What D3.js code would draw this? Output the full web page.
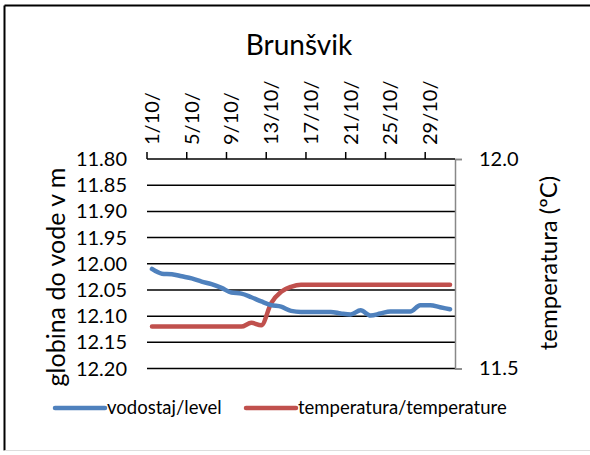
<!DOCTYPE html>
<html>
<head>
<meta charset="utf-8">
<script src="https://cdn.jsdelivr.net/npm/d3@7"></script>
<style>
body { margin: 0; background: #fff; overflow: hidden; }
svg { font-family: Lato, "Open Sans", sans-serif; display: block; }
</style>
</head>
<body>
<script>
// days of October, labels shown every 4th day
var days = d3.range(1, 32);
var tickLabels = ["1/10/", "5/10/", "9/10/", "13/10/", "17/10/", "21/10/", "25/10/", "29/10/"];
var level = [12.010, 12.019, 12.020, 12.024, 12.028, 12.034, 12.039, 12.046, 12.055, 12.057,
             12.064, 12.072, 12.079, 12.082, 12.090, 12.092, 12.092, 12.092, 12.092, 12.095,
             12.097, 12.089, 12.099, 12.095, 12.091, 12.091, 12.091, 12.079, 12.079, 12.083, 12.087];
var temperature = [11.600, 11.600, 11.600, 11.600, 11.600, 11.600, 11.600, 11.600, 11.600, 11.600,
                   11.609, 11.603, 11.656, 11.683, 11.695, 11.700, 11.700, 11.700, 11.700, 11.700,
                   11.700, 11.700, 11.700, 11.700, 11.700, 11.700, 11.700, 11.700, 11.700, 11.700, 11.700];
var leftTicks = [11.80, 11.85, 11.90, 11.95, 12.00, 12.05, 12.10, 12.15, 12.20];
var rightTicks = [11.5, 12.0];

var w = 590, h = 455;
var pLeft = 147, pRight = 455, pTop = 159, pBottom = 368.5;

var svg = d3.select("body").append("svg")
    .attr("width", w)
    .attr("height", h);

// chart border (right edge falls outside the picture)
svg.append("line")
   .attr("x1", 4.5).attr("x2", w).attr("y1", 5.5).attr("y2", 5.5)
   .attr("stroke", "#000").attr("stroke-width", 2);
svg.append("line")
   .attr("x1", 4.5).attr("x2", 4.5).attr("y1", 5.5).attr("y2", 450.5)
   .attr("stroke", "#000").attr("stroke-width", 2);
svg.append("line")
   .attr("x1", 4.5).attr("x2", w).attr("y1", 450.5).attr("y2", 450.5)
   .attr("stroke", "#ddd").attr("stroke-width", 1);

var xScale = d3.scaleBand()
    .domain(days)
    .range([pLeft, pRight]);

var yLeft = d3.scaleLinear()
    .domain([11.80, 12.20])
    .range([pTop, pBottom]);

var yRight = d3.scaleLinear()
    .domain([11.5, 12.0])
    .range([pBottom, pTop]);

// gridlines
svg.selectAll("line.grid")
   .data(leftTicks.slice(1))
   .enter()
   .append("line")
   .attr("class", "grid")
   .attr("x1", pLeft).attr("x2", pRight)
   .attr("y1", function(d) { return yLeft(d); })
   .attr("y2", function(d) { return yLeft(d); })
   .attr("stroke", "#000")
   .attr("stroke-width", 1.5);

// left tick labels
svg.selectAll("text.ly")
   .data(leftTicks)
   .enter()
   .append("text")
   .attr("class", "ly")
   .text(function(d) { return d.toFixed(2); })
   .attr("x", 127)
   .attr("y", function(d) { return yLeft(d); })
   .attr("dy", "0.35em")
   .attr("text-anchor", "end")
   .attr("font-size", "20px")
   .attr("fill", "#000");

// right axis
var rAxis = svg.append("g")
   .attr("transform", "translate(" + pRight + ",0)")
   .call(d3.axisRight(yRight).tickValues(rightTicks).tickSize(7).tickPadding(17)
         .tickFormat(d3.format(".1f")));
rAxis.select(".domain").attr("stroke", "#888").attr("stroke-width", 1.5);
rAxis.selectAll(".tick line").attr("stroke", "#888").attr("stroke-width", 1.5);
rAxis.selectAll(".tick text").attr("font-size", "20px").attr("fill", "#000")
   .attr("font-family", "Lato, sans-serif");

// top category axis
var tickDays = days.filter(function(d) { return (d - 1) % 4 === 0; });
var xAxisG = svg.append("g");
xAxisG.append("line")
   .attr("x1", pLeft).attr("x2", pRight)
   .attr("y1", pTop).attr("y2", pTop)
   .attr("stroke", "#000").attr("stroke-width", 1.5);
xAxisG.selectAll("line.xt")
   .data(tickDays)
   .enter()
   .append("line")
   .attr("class", "xt")
   .attr("x1", function(d) { return xScale(d); })
   .attr("x2", function(d) { return xScale(d); })
   .attr("y1", pTop).attr("y2", pTop - 7)
   .attr("stroke", "#000").attr("stroke-width", 1.5);
xAxisG.selectAll("text")
   .data(tickDays)
   .enter()
   .append("text")
   .text(function(d, i) { return tickLabels[i]; })
   .attr("transform", function(d) {
       return "translate(" + (xScale(d) + xScale.bandwidth() / 2) + "," + 145 + ") rotate(-90)";
   })
   .attr("dy", "0.35em")
   .attr("text-anchor", "start")
   .attr("font-size", "20px")
   .attr("fill", "#000");

// lines
var lineLevel = d3.line()
    .x(function(d, i) { return xScale(days[i]) + xScale.bandwidth() / 2; })
    .y(function(d) { return yLeft(d); })
    .curve(d3.curveMonotoneX);
var lineTemp = d3.line()
    .x(function(d, i) { return xScale(days[i]) + xScale.bandwidth() / 2; })
    .y(function(d) { return yRight(d); })
    .curve(d3.curveMonotoneX);

svg.append("path")
   .attr("d", lineTemp(temperature))
   .attr("fill", "none")
   .attr("stroke", "#C0504D")
   .attr("stroke-width", 4.5)
   .attr("stroke-linecap", "round")
   .attr("stroke-linejoin", "round");

svg.append("path")
   .attr("d", lineLevel(level))
   .attr("fill", "none")
   .attr("stroke", "#4F81BD")
   .attr("stroke-width", 4.5)
   .attr("stroke-linecap", "round")
   .attr("stroke-linejoin", "round");

// title
svg.append("text")
   .text("Brunšvik")
   .attr("x", 299).attr("y", 55)
   .attr("text-anchor", "middle")
   .attr("font-size", "28px")
   .attr("fill", "#000");

// axis titles
svg.append("text")
   .text("globina do vode v m")
   .attr("transform", "translate(65,277) rotate(-90)")
   .attr("text-anchor", "middle")
   .attr("font-size", "25px")
   .attr("fill", "#000");

svg.append("text")
   .text("temperatura (ºC)")
   .attr("transform", "translate(557,263) rotate(-90)")
   .attr("text-anchor", "middle")
   .attr("font-size", "24px")
   .attr("fill", "#000");

// legend
var legend = [
  { name: "vodostaj/level", color: "#4F81BD", x: 55 },
  { name: "temperatura/temperature", color: "#C0504D", x: 246 }
];
var lg = svg.selectAll("g.legend")
   .data(legend)
   .enter()
   .append("g")
   .attr("class", "legend")
   .attr("transform", function(d) { return "translate(" + d.x + ",408)"; });
lg.append("line")
   .attr("x1", 0).attr("x2", 50)
   .attr("y1", 0).attr("y2", 0)
   .attr("stroke", function(d) { return d.color; })
   .attr("stroke-width", 4.5)
   .attr("stroke-linecap", "round");
lg.append("text")
   .text(function(d) { return d.name; })
   .attr("x", 52)
   .attr("dy", "0.35em")
   .attr("font-size", "18.5px")
   .attr("fill", "#000");
</script>
</body>
</html>
